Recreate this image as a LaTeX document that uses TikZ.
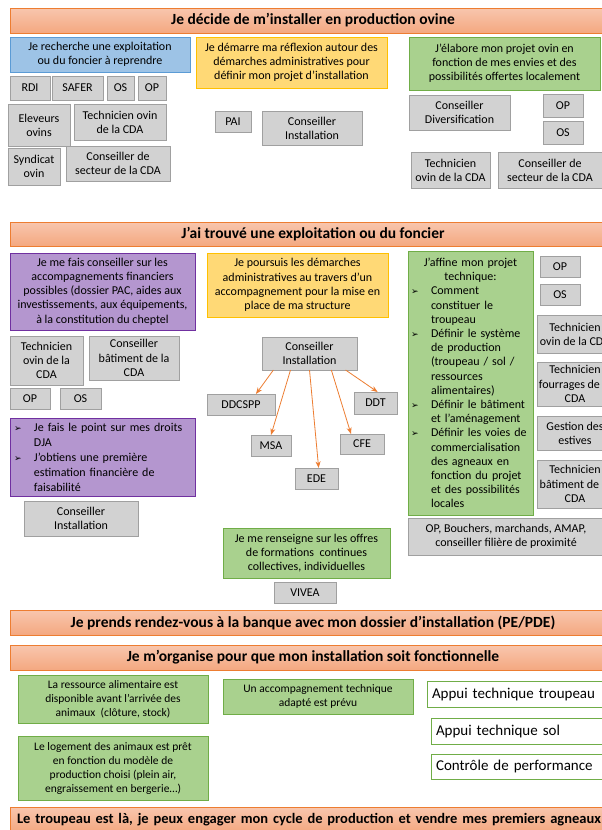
\documentclass[tikz,border=0pt]{standalone}
\usepackage{fontspec}
\setmainfont{Carlito}
\newfontfamily\symfont{DejaVu Sans}
\usepackage{xcolor}
\usetikzlibrary{positioning,arrows.meta,calc}

\definecolor{saumon}{HTML}{F4A880}
\definecolor{saumonclair}{HTML}{F8C6AE}
\definecolor{orangebord}{HTML}{ED7D31}
\definecolor{bleufond}{HTML}{9DC3E6}
\definecolor{bleubord}{HTML}{5B9BD5}
\definecolor{jaunefond}{HTML}{FFD976}
\definecolor{jaunebord}{HTML}{FFC000}
\definecolor{vertfond}{HTML}{A9D18E}
\definecolor{vertbord}{HTML}{70AD47}
\definecolor{violetfond}{HTML}{B496CF}
\definecolor{violetbord}{HTML}{7030A0}
\definecolor{grisfond}{HTML}{D2D2D2}
\definecolor{grisbord}{HTML}{A0A0A0}

\newcommand\petit{\fontsize{12}{14.2}\selectfont}
\newcommand\puce{\makebox[20pt][l]{\symfont\small ➢}}
\newcommand\retrait{\hspace*{20pt}}

\begin{document}
\begin{tikzpicture}[
    x=1pt, y=-1pt,
    taille/.style 2 args={minimum width=#1, minimum height=#2},
    boite/.style={
        draw,
        rectangle,
        anchor=north west,
        inner sep=1pt,
        outer sep=0pt,
        align=center,
        font=\petit
    },
    bandeau/.style={boite, draw=orangebord, top color=saumonclair, bottom color=saumon,
        taille={606}{25}, font=\bfseries\fontsize{15.5}{17}\selectfont},
    gris/.style={boite, draw=grisbord, fill=grisfond},
    bleu/.style={boite, draw=bleubord, fill=bleufond},
    jaune/.style={boite, draw=jaunebord, fill=jaunefond},
    vert/.style={boite, draw=vertbord, fill=vertfond},
    violet/.style={boite, draw=violetbord, fill=violetfond},
    appui/.style={boite, draw=vertbord, fill=white, align=left, inner xsep=5pt,
        text width=200pt, font=\fontsize{15}{17}\selectfont},
    fleche/.style={->, >=Stealth, draw=orangebord, thick}
]
\clip (0,0) rectangle (602,830);
\fill[white] (0,0) rectangle (602,830);

% Je decide de m'installer
\node[bandeau] (decide) at (10,8) {Je décide de m’installer en production ovine};

\node[bleu, taille={180}{35}] (recherche) at (10,37) {Je recherche une exploitation\\ou du foncier à reprendre};
\node[jaune, taille={191}{51}] (reflexion) at (196,37) {Je démarre ma réflexion autour des\\démarches administratives pour\\définir mon projet d’installation};
\node[vert, taille={191}{53}] (elabore) at (409,37) {J’élabore mon projet ovin en\\fonction de mes envies et des\\possibilités offertes localement};

\node[gris, taille={40}{24}] (rdi) at (10,76) {RDI};
\node[gris, taille={51}{24}] (safer) at (52,76) {SAFER};
\node[gris, taille={27}{24}] (osA) at (107,76) {OS};
\node[gris, taille={28}{24}] (opA) at (138,76) {OP};
\node[gris, taille={62}{42}] (eleveurs) at (8,104) {Eleveurs\\ovins};
\node[gris, taille={92}{36}] (techA) at (74,104) {Technicien ovin\\de la CDA};
\node[gris, taille={52}{37}] (syndicat) at (8,148) {Syndicat\\ovin};
\node[gris, taille={104}{35}] (secteurA) at (66,146) {Conseiller de\\secteur de la CDA};

\node[gris, taille={36}{21}] (pai) at (215,111) {PAI};
\node[gris, taille={100}{34}] (installA) at (262,111) {Conseiller\\Installation};

\node[gris, taille={101}{35}] (diversif) at (409,95) {Conseiller\\Diversification};
\node[gris, taille={40}{23}] (opB) at (543,94) {OP};
\node[gris, taille={40}{23}] (osB) at (543,121) {OS};
\node[gris, taille={79}{36}] (techB) at (411,152) {Technicien\\ovin de la CDA};
\node[gris, taille={104}{36}] (secteurB) at (498,152) {Conseiller de\\secteur de la CDA};

% J'ai trouve
\node[bandeau, minimum height=24] (trouve) at (10,222) {J’ai trouvé une exploitation ou du foncier};

\node[violet, taille={185}{77}] (conseil) at (10,253) {Je me fais conseiller sur les\\accompagnements financiers\\possibles (dossier PAC, aides aux\\investissements, aux équipements,\\à la constitution du cheptel};
\node[jaune, taille={181}{64}] (poursuis) at (207,253) {Je poursuis les démarches\\administratives au travers d’un\\accompagnement pour la mise en\\place de ma structure};
\node[vert, taille={125}{264}, text width=119pt, align=left, inner xsep=3pt] (affine) at (408,251) {%
    {\centering J’affine mon projet\\technique:\par}
    \puce Comment\\\retrait constituer le\\\retrait troupeau\\
    \puce Définir le système\\\retrait de production\\\retrait (troupeau / sol /\\\retrait ressources\\\retrait alimentaires)\\
    \puce Définir le bâtiment\\\retrait et l’aménagement\\
    \puce Définir les voies de\\\retrait commercialisation\\\retrait des agneaux en\\\retrait fonction du projet\\\retrait et des possibilités\\\retrait locales};

\node[gris, taille={40}{21}] (opC) at (540,256) {OP};
\node[gris, taille={40}{21}] (osC) at (540,284) {OS};
\node[gris, taille={76}{38}] (techC) at (537,315) {Technicien\\ovin de la CDA};
\node[gris, taille={76}{44}] (fourrages) at (537,362) {Technicien\\fourrages de la\\CDA};
\node[gris, taille={76}{34}] (estives) at (537,416) {Gestion des\\estives};
\node[gris, taille={76}{48}] (batimentB) at (537,460) {Technicien\\bâtiment de la\\CDA};
\node[gris, taille={196}{37}] (bouchers) at (408,518) {OP, Bouchers, marchands, AMAP,\\conseiller filière de proximité};

\node[gris, taille={73}{49}] (techD) at (10,336) {Technicien\\ovin de la\\CDA};
\node[gris, taille={90}{44}] (batimentA) at (89,336) {Conseiller\\bâtiment de la\\CDA};
\node[gris, taille={40}{21}] (opD) at (10,388) {OP};
\node[gris, taille={41}{21}] (osD) at (60,388) {OS};
\node[violet, taille={185}{78}, text width=177pt, align=left, inner xsep=4pt,
    font=\fontsize{12}{15}\selectfont] (droits) at (10,418) {%
    \puce Je fais le point sur mes droits\\\retrait DJA\\
    \puce J’obtiens une première\\\retrait estimation financière de\\\retrait faisabilité};
\node[gris, taille={114}{35}] (installC) at (24,501) {Conseiller\\Installation};

\node[gris, taille={95}{33}] (installB) at (262,337) {Conseiller\\Installation};
\node[gris, taille={68}{21}] (ddcspp) at (207,394) {DDCSPP};
\node[gris, taille={43}{22}] (ddt) at (354,392) {DDT};
\node[gris, taille={40}{21}] (msa) at (251,435) {MSA};
\node[gris, taille={44}{20}] (cfe) at (340,434) {CFE};
\node[gris, taille={43}{21}] (ede) at (295,468) {EDE};

\draw[fleche] ($(installB.south west)!.12!(installB.south east)$) -- ($(ddcspp.north west)!.72!(ddcspp.north east)$);
\draw[fleche] ($(installB.south west)!.3!(installB.south east)$) -- ($(msa.north west)!.5!(msa.north east)$);
\draw[fleche] ($(installB.south west)!.5!(installB.south east)$) -- ($(ede.north west)!.55!(ede.north east)$);
\draw[fleche] ($(installB.south west)!.73!(installB.south east)$) -- ($(cfe.north west)!.25!(cfe.north east)$);
\draw[fleche] ($(installB.south west)!.88!(installB.south east)$) -- ($(ddt.north west)!.55!(ddt.north east)$);

\node[vert, taille={167}{50}] (formation) at (223,528) {Je me renseigne sur les offres\\de formations\ \ continues\\collectives, individuelles};
\node[gris, taille={62}{21}] (vivea) at (274,582) {VIVEA};

% Banque et organisation
\node[bandeau] (banque) at (10,610) {Je prends rendez-vous à la banque avec mon dossier d’installation (PE/PDE)};
\node[bandeau] (organise) at (10,645) {Je m’organise pour que mon installation soit fonctionnelle};

\node[vert, taille={190}{48}, font=\fontsize{11.5}{14}\selectfont] (ressource) at (18,675) {La ressource alimentaire est\\disponible avant l’arrivée des\\animaux\ \ (clôture, stock)};
\node[vert, taille={190}{35}, font=\fontsize{11.5}{14}\selectfont] (accomp) at (223,679) {Un accompagnement technique\\adapté est prévu};
\node[vert, taille={190}{64}, font=\fontsize{11.5}{14}\selectfont] (logement) at (18,736) {Le logement des animaux est prêt\\en fonction du modèle de\\production choisi (plein air,\\engraissement en bergerie…)};

\node[appui, minimum height=26] (troupeau) at (427,681) {Appui technique troupeau};
\node[appui, minimum height=26] (sol) at (431,718) {Appui technique sol};
\node[appui, minimum height=25] (controle) at (431,754) {Contrôle de performance};

% Cycle de production
\node[bandeau, align=left, text width=700pt, inner xsep=7pt,
    font=\bfseries\fontsize{14.5}{17}\selectfont] (cycle) at (10,807) {Le troupeau est là, je peux engager mon cycle de production et vendre mes premiers agneaux};

\end{tikzpicture}
\end{document}
